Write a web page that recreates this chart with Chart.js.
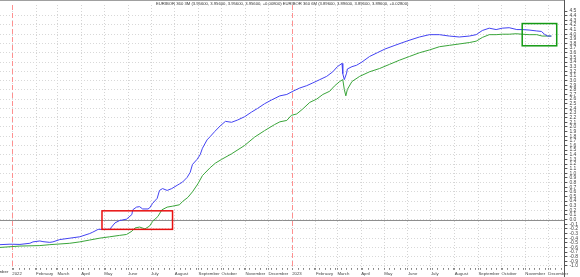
<!DOCTYPE html>
<html lang="en">
<head>
<meta charset="UTF-8" />
<title>EURIBOR 3M / 6M</title>
<script src="https://cdn.jsdelivr.net/npm/chart.js"></script>
<style>
  html, body { margin: 0; padding: 0; background: #fff; }
  #wrap { width: 580px; height: 277px; }
</style>
</head>
<body>
<div id="wrap"><canvas id="rates"></canvas></div>
<script>
// x values are days counted from 2022-01-01
let days6m = [-16, -3, 10, 23, 27, 36, 40, 49, 53, 62,
  75, 88, 101, 105, 112, 117, 127, 134, 140, 149,
  156, 157, 162, 166, 170, 177, 179, 183, 189, 192,
  196, 202, 208, 215, 218, 222, 228, 232, 235, 241,
  245, 248, 254, 258, 264, 271, 278, 286, 294, 303,
  312, 320, 329, 338, 349, 358, 366, 375, 384, 392,
  401, 410, 418, 424, 430, 431, 433, 436, 437, 443,
  449, 456, 466, 476, 486, 499, 516, 531, 544, 557,
  570, 583, 596, 605, 613, 622, 631, 639, 648, 658,
  665, 674, 684, 690, 694, 698, 703];
let rate6m = [-0.54, -0.53, -0.535, -0.51, -0.48, -0.46, -0.475, -0.49, -0.48, -0.43,
  -0.40, -0.37, -0.30, -0.27, -0.21, -0.21, -0.21, -0.07, -0.02, 0.01,
  0.11, 0.21, 0.27, 0.28, 0.23, 0.23, 0.25, 0.35, 0.46, 0.63,
  0.67, 0.63, 0.67, 0.74, 0.77, 0.81, 0.91, 1.02, 1.19, 1.30,
  1.40, 1.54, 1.72, 1.79, 1.90, 2.02, 2.12, 2.10, 2.15, 2.22,
  2.32, 2.40, 2.50, 2.58, 2.67, 2.70, 2.77, 2.84, 2.89, 2.95,
  3.02, 3.09, 3.19, 3.30, 3.37, 3.15, 3.02, 3.16, 3.25, 3.30,
  3.33, 3.40, 3.52, 3.60, 3.68, 3.76, 3.86, 3.94, 3.99, 3.99,
  3.96, 3.94, 3.96, 3.99, 4.08, 4.13, 4.10, 4.13, 4.14, 4.10,
  4.10, 4.09, 4.07, 4.06, 4.00, 3.96, 3.96];

let days3m = [-16, 10, 36, 49, 75, 88, 101, 114, 127, 140,
  149, 156, 160, 166, 173, 179, 183, 190, 195, 202,
  209, 218, 222, 229, 235, 242, 248, 258, 265, 273,
  286, 303, 316, 329, 342, 349, 358, 364, 371, 379,
  388, 397, 405, 414, 420, 427, 431, 433, 435, 437,
  443, 453, 466, 479, 492, 505, 518, 531, 544, 557,
  570, 583, 596, 605, 613, 622, 631, 639, 648, 657,
  665, 674, 684, 691, 698, 703];
let rate3m = [-0.60, -0.57, -0.56, -0.54, -0.51, -0.48, -0.44, -0.40, -0.37, -0.34,
  -0.32, -0.25, -0.18, -0.16, -0.20, -0.14, -0.04, 0.07, 0.21, 0.27,
  0.29, 0.32, 0.39, 0.48, 0.60, 0.77, 0.95, 1.12, 1.22, 1.30,
  1.42, 1.60, 1.78, 1.92, 2.05, 2.11, 2.14, 2.25, 2.28, 2.39,
  2.53, 2.60, 2.70, 2.77, 2.88, 2.98, 3.02, 2.81, 2.67, 2.81,
  2.98, 3.09, 3.19, 3.26, 3.35, 3.44, 3.52, 3.60, 3.66, 3.73,
  3.76, 3.79, 3.82, 3.85, 3.93, 3.99, 3.99, 4.00, 4.00, 4.01,
  4.00, 3.99, 3.99, 3.96, 3.96, 3.96];

let years = [2022, 2023];
let monthNames = ['January', 'February', 'March', 'April', 'May', 'June', 'July',
  'August', 'September', 'October', 'November', 'December'];

// marked areas: [from day, to day] and [low, high] rate
let boxDays = [[117, 209], [665, 710]];
let boxRates = [[-0.21, 0.19], [3.75, 4.23]];

let titleText = 'EURIBOR 360 3M (3.95600, 3.95600, 3.95600, 3.95600, +0.00800) ' +
  'EURIBOR 360 6M (3.89600, 3.89600, 3.89600, 3.89600, +0.02800)';

const base = Date.UTC(2022, 0, 1);
const dayOf = (y, m, d) => Math.round((Date.UTC(y, m, d) - base) / 864e5);

// month ticks (labelled) plus weekly minor ticks
const labelMap = new Map();
const xTicks = [];
years.forEach(y => monthNames.forEach((name, m) => {
  const d = dayOf(y, m, 1);
  labelMap.set(d, m === 0 ? String(y) : name);
  xTicks.push({ value: d, major: true });
}));
for (let d = 2; d <= 720; d += 7) {
  if (!labelMap.has(d)) xTicks.push({ value: d, major: false });
}
xTicks.sort((a, b) => a.value - b.value);

const yTicks = [];
for (let i = -10; i <= 45; i++) yTicks.push(i / 10);

const fontFamily = '"Liberation Sans", Arial, sans-serif';
const xFont = { family: fontFamily, size: 4.3 };
const yFont = { family: fontFamily, size: 5 };

const overlay = {
  id: 'overlay',
  beforeDatasetsDraw(chart) {
    const { ctx, chartArea: a, scales: { x, y } } = chart;
    ctx.save();
    ctx.lineWidth = 1;
    // year separators
    ctx.strokeStyle = '#ff8f8f';
    ctx.setLineDash([5, 3]);
    years.forEach(yr => {
      const px = Math.round(x.getPixelForValue(dayOf(yr, 0, 1))) + 0.5;
      ctx.beginPath();
      ctx.moveTo(px, a.top);
      ctx.lineTo(px, a.bottom);
      ctx.stroke();
    });
    ctx.setLineDash([]);
    // zero line
    ctx.strokeStyle = '#8e8e8e';
    const py = Math.round(y.getPixelForValue(0)) + 0.5;
    ctx.beginPath();
    ctx.moveTo(a.left, py);
    ctx.lineTo(a.right, py);
    ctx.stroke();
    // top frame
    ctx.strokeStyle = '#a0a0a0';
    ctx.beginPath();
    ctx.moveTo(a.left, 0.5);
    ctx.lineTo(a.right, 0.5);
    ctx.stroke();
    ctx.restore();
  },
  afterDatasetsDraw(chart) {
    const { ctx, chartArea: a, scales: { x, y } } = chart;
    ctx.save();
    // marked areas
    const boxColors = ['#e81010', '#139a13'];
    boxDays.forEach((bd, i) => {
      const x0 = x.getPixelForValue(bd[0]), x1 = x.getPixelForValue(bd[1]);
      const y0 = y.getPixelForValue(boxRates[i][1]), y1 = y.getPixelForValue(boxRates[i][0]);
      ctx.strokeStyle = boxColors[i];
      ctx.lineWidth = 1.5;
      ctx.strokeRect(x0, y0, x1 - x0, y1 - y0);
    });
    // right axis line
    ctx.strokeStyle = '#555';
    ctx.lineWidth = 1;
    const ax = Math.round(a.right) + 0.5;
    ctx.beginPath();
    ctx.moveTo(ax, 0);
    ctx.lineTo(ax, chart.height);
    ctx.stroke();
    // title
    ctx.fillStyle = '#333';
    ctx.font = '4.2px ' + fontFamily;
    ctx.textAlign = 'center';
    ctx.textBaseline = 'middle';
    ctx.fillText(titleText, (a.left + a.right) / 2, 4);
    // cut-off label of the previous month
    ctx.font = xFont.size + 'px ' + fontFamily;
    ctx.textAlign = 'left';
    ctx.textBaseline = 'top';
    ctx.fillText(monthNames[11], x.getPixelForValue(dayOf(2021, 11, 1)), a.bottom + 2);
    ctx.restore();
  }
};

new Chart(document.getElementById('rates'), {
  type: 'line',
  data: {
    datasets: [
      {
        label: 'EURIBOR 360 6M',
        data: days6m.map((d, i) => ({ x: d, y: rate6m[i] })),
        borderColor: '#4343f2',
        borderWidth: 1,
        pointRadius: 0,
        fill: false,
        tension: 0
      },
      {
        label: 'EURIBOR 360 3M',
        data: days3m.map((d, i) => ({ x: d, y: rate3m[i] })),
        borderColor: '#3aa53a',
        borderWidth: 1,
        pointRadius: 0,
        fill: false,
        tension: 0
      }
    ]
  },
  options: {
    responsive: true,
    maintainAspectRatio: false,
    animation: false,
    layout: { padding: 0 },
    plugins: { legend: { display: false }, tooltip: { enabled: false } },
    scales: {
      x: {
        type: 'linear',
        min: -16,
        max: 720,
        afterBuildTicks: s => { s.ticks = xTicks.map(t => ({ value: t.value, major: t.major })); },
        ticks: {
          autoSkip: false,
          maxRotation: 0,
          align: 'start',
          padding: 1,
          font: xFont,
          color: '#444',
          callback: v => labelMap.get(v) || ''
        },
        grid: {
          color: c => (c.tick && c.tick.major) ? '#d4d4d4' : 'rgba(0,0,0,0)',
          tickColor: '#888',
          tickLength: 2
        },
        border: { display: false, dash: [1, 2] }
      },
      y: {
        position: 'right',
        min: -1.04,
        max: 4.63,
        afterBuildTicks: s => { s.ticks = yTicks.map(v => ({ value: v })); },
        ticks: {
          autoSkip: false,
          padding: 2,
          font: yFont,
          color: '#444',
          callback: v => (Math.round(v * 10) / 10).toFixed(1)
        },
        grid: {
          color: c => (c.tick && Math.round(c.tick.value * 10) % 2 === 0) ? '#d8d8d8' : 'rgba(0,0,0,0)',
          tickColor: '#555',
          tickLength: 3
        },
        border: { display: false, dash: [1, 2] }
      }
    }
  },
  plugins: [overlay]
});
</script>
</body>
</html>
